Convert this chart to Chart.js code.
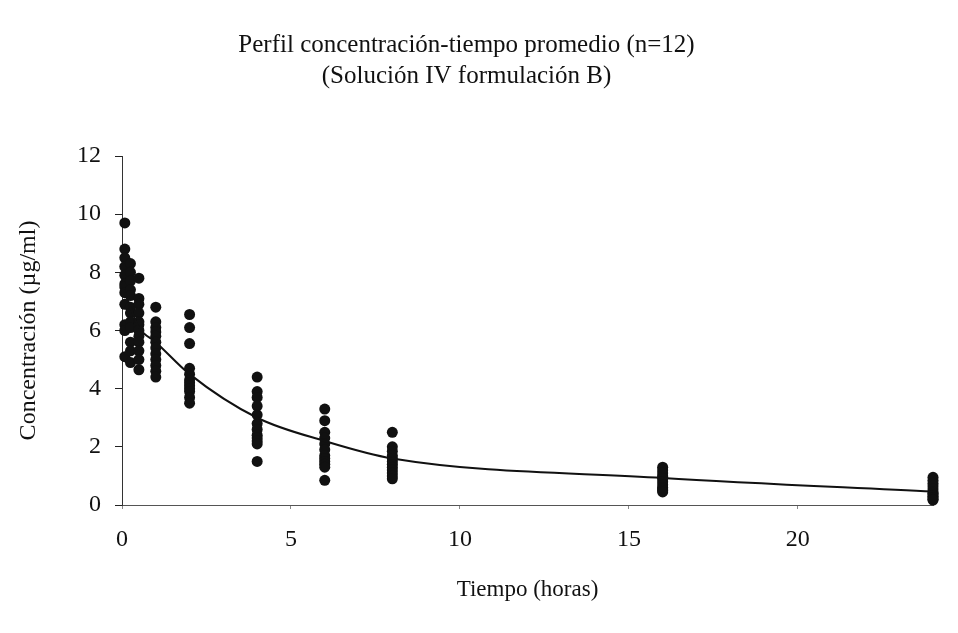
<!DOCTYPE html>
<html>
<head>
<meta charset="utf-8">
<script src="https://cdn.jsdelivr.net/npm/chart.js@4.4.1/dist/chart.umd.min.js"></script>
<style>
  html, body { margin: 0; padding: 0; background: #fff; }
  #wrap { position: relative; width: 958px; height: 633px; }
</style>
</head>
<body>
<div id="wrap"><canvas id="chart" width="958" height="633"></canvas></div>
<script>
// sampling times (h) and individual concentrations (µg/ml), n=12 per time
const times = [0.083, 0.25, 0.5, 1, 2, 4, 6, 8, 16, 24];
const conc_0083 = [9.7, 8.8, 8.5, 8.2, 7.9, 7.6, 7.5, 7.3, 6.9, 6.2, 6.0, 5.1];
const conc_025 = [8.3, 8.0, 7.7, 7.4, 7.2, 6.8, 6.6, 6.3, 6.1, 5.6, 5.3, 4.9];
const conc_05 = [7.8, 7.1, 6.9, 6.6, 6.3, 6.2, 6.0, 5.8, 5.6, 5.3, 5.0, 4.65];
const conc_1 = [6.8, 6.3, 6.1, 5.95, 5.8, 5.6, 5.4, 5.2, 5.0, 4.8, 4.6, 4.4];
const conc_2 = [6.55, 6.1, 5.55, 4.7, 4.5, 4.3, 4.2, 4.1, 4.0, 3.9, 3.7, 3.5];
const conc_4 = [4.4, 3.9, 3.7, 3.4, 3.1, 2.8, 2.6, 2.4, 2.3, 2.2, 2.1, 1.5];
const conc_6 = [3.3, 2.9, 2.5, 2.3, 2.1, 1.9, 1.7, 1.6, 1.5, 1.4, 1.3, 0.85];
const conc_8 = [2.5, 2.0, 1.85, 1.7, 1.6, 1.5, 1.4, 1.3, 1.2, 1.1, 1.0, 0.9];
const conc_16 = [1.3, 1.2, 1.1, 1.0, 0.95, 0.9, 0.8, 0.7, 0.6, 0.55, 0.5, 0.45];
const conc_24 = [0.95, 0.85, 0.75, 0.65, 0.55, 0.45, 0.4, 0.35, 0.3, 0.25, 0.2, 0.17];
// mean profile (line)
const meanConc = [7.3, 6.8, 6.1, 5.6, 4.5, 3.0, 2.2, 1.6, 0.93, 0.46];

const titleLines = ['Perfil concentración-tiempo promedio (n=12)', '(Solución IV formulación B)'];
const xTitle = 'Tiempo (horas)';
const yTitle = 'Concentración (µg/ml)';

const individual = [conc_0083, conc_025, conc_05, conc_1, conc_2, conc_4, conc_6, conc_8, conc_16, conc_24];
const scatterData = [];
individual.forEach((vals, i) => {
  vals.forEach(v => scatterData.push({ x: times[i], y: v }));
});
const meanData = times.map((t, i) => ({ x: t, y: meanConc[i] }));

const serif = "'Liberation Serif', 'DejaVu Serif', serif";

new Chart(document.getElementById('chart'), {
  type: 'scatter',
  data: {
    datasets: [
      {
        label: 'media',
        type: 'line',
        data: meanData,
        borderColor: '#111',
        borderWidth: 2,
        pointRadius: 0,
        fill: false,
        clip: false,
        cubicInterpolationMode: 'monotone',
        order: 0
      },
      {
        label: 'individual',
        data: scatterData,
        backgroundColor: '#111',
        borderColor: '#111',
        borderWidth: 0,
        pointRadius: 5.5,
        pointStyle: 'circle',
        clip: false,
        order: 1
      }
    ]
  },
  options: {
    responsive: false,
    animation: false,
    layout: { padding: { left: 0, right: 25, top: 0, bottom: 0 } },
    plugins: {
      legend: { display: false },
      tooltip: { enabled: false },
      title: {
        display: true,
        text: titleLines,
        color: '#111',
        font: { family: serif, size: 25, weight: 'normal', lineHeight: 1.25 },
        padding: { top: 29.4, bottom: 64.1 }
      }
    },
    scales: {
      x: {
        type: 'linear',
        min: 0,
        max: 24,
        afterFit: s => { s.height = 128; },
        ticks: { stepSize: 5, includeBounds: false, color: '#111', padding: 16.6, font: { family: serif, size: 24 } },
        grid: { drawOnChartArea: false, drawTicks: true, tickLength: 4, color: '#888' },
        border: { color: '#555', width: 1 },
        title: { display: true, text: xTitle, color: '#111', font: { family: serif, size: 23 }, padding: { bottom: 29 } }
      },
      y: {
        type: 'linear',
        min: 0,
        max: 12,
        afterFit: s => { s.width = 122; },
        ticks: { stepSize: 2, color: '#111', padding: 14, font: { family: serif, size: 24 } },
        grid: { drawOnChartArea: false, drawTicks: true, tickLength: 7, color: '#222' },
        border: { color: '#333', width: 1 },
        title: { display: true, text: yTitle, color: '#111', font: { family: serif, size: 24 }, padding: { top: 14 } }
      }
    }
  }
});
</script>
</body>
</html>
